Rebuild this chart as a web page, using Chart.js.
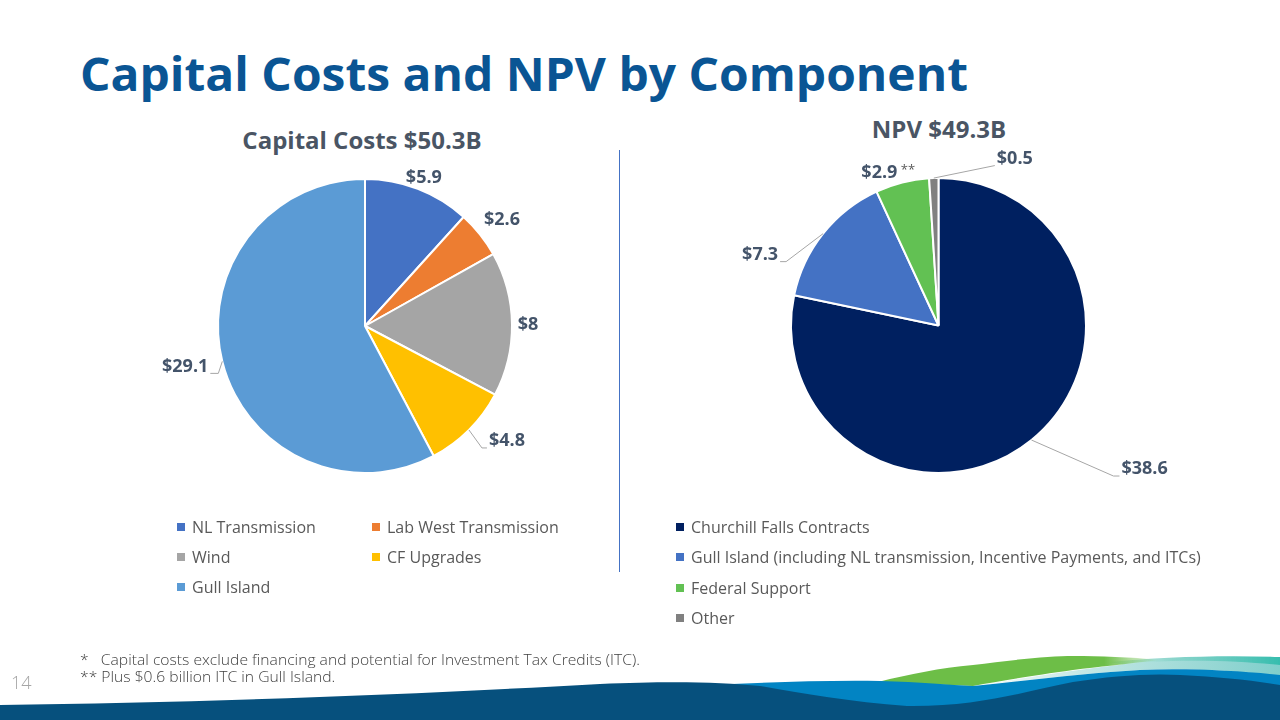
<!DOCTYPE html>
<html>
<head>
<meta charset="utf-8">
<script src="https://cdn.jsdelivr.net/npm/chart.js@4.4.1/dist/chart.umd.min.js"></script>
<style>
html,body{margin:0;padding:0;background:#ffffff;}
#slide{position:relative;width:1280px;height:720px;overflow:hidden;font-family:"Open Sans",sans-serif;background:#fff;}
.abs{position:absolute;white-space:nowrap;line-height:1;}
canvas.chart{position:absolute;left:0;top:0;}
#title{left:80px;top:50px;font-size:46px;font-weight:700;color:#0A5594;transform-origin:left top;}
.ctitle{font-size:24px;font-weight:700;color:#4A5564;text-align:center;width:400px;}
.leg{font-size:16px;color:#595959;}
.sq{position:absolute;width:8px;height:8px;}
.foot{font-size:14px;font-weight:300;color:#404040;left:80px;transform-origin:left top;}
#pnum{left:11px;top:673px;font-size:18px;font-weight:300;color:#A6A6A6;}
#divider{position:absolute;left:619px;top:150px;width:1px;height:422px;background:#4472C4;}
svg#wave{position:absolute;left:0;top:0;}
</style>
</head>
<body>
<div id="slide">
  <div id="title" class="abs">Capital Costs and NPV by Component</div>
  <div id="ct1" class="abs ctitle" style="left:162px;top:128px;">Capital Costs $50.3B</div>
  <div id="ct2" class="abs ctitle" style="left:739px;top:117px;">NPV $49.3B</div>
  <div id="divider"></div>
  <canvas id="capChart" class="chart" width="1280" height="720"></canvas>
  <canvas id="npvChart" class="chart" width="1280" height="720"></canvas>
  <div id="legCap"></div>
  <div id="legNpv"></div>
  <svg id="wave" width="1280" height="720" viewBox="0 0 1280 720">
    <defs>
      <linearGradient id="tealG" x1="1100" y1="0" x2="1280" y2="0" gradientUnits="userSpaceOnUse">
        <stop offset="0" stop-color="#8FD6CC" stop-opacity="0.3"/>
        <stop offset="0.4" stop-color="#7FD0C6" stop-opacity="0.9"/>
        <stop offset="1" stop-color="#36BDAE" stop-opacity="1"/>
      </linearGradient>
      <linearGradient id="greenG" x1="880" y1="0" x2="1160" y2="0" gradientUnits="userSpaceOnUse">
        <stop offset="0" stop-color="#6DBE47"/>
        <stop offset="0.8" stop-color="#6DBE47"/>
        <stop offset="1" stop-color="#6DBE47" stop-opacity="0"/>
      </linearGradient>
      <linearGradient id="paleG" x1="970" y1="0" x2="1280" y2="0" gradientUnits="userSpaceOnUse">
        <stop offset="0" stop-color="#FFFFFF"/>
        <stop offset="0.35" stop-color="#C6E8E6"/>
        <stop offset="1" stop-color="#7FCFCB"/>
      </linearGradient>
    </defs>
    <path d="M1110,662 C1160,657 1220,655 1280,657 L1280,676 C1240,670 1190,667 1140,669 Z" fill="url(#tealG)"/>
    <path d="M973,686 C1030,677 1090,667 1150,662 C1200,659 1250,662 1280,665 L1280,676 C1240,671 1190,668 1140,670 C1090,673 1030,680 973,686 Z" fill="url(#paleG)"/>
    <path d="M878,682 C910,674 940,668 973,665 C1010,660 1050,656 1073,656 C1100,656 1130,657 1160,660 C1125,664 1098,667 1073,670 C1030,676 1000,681 973,686 Z" fill="url(#greenG)"/>
    <path d="M700,685 C760,683 820,680 880,681 C920,682 950,685 973,686 C1030,680 1090,673 1140,670 C1190,668 1240,671 1280,675 L1280,720 L700,720 Z" fill="#0284C3"/>
    <path d="M0,705 C200,703 420,694 600,684 C670,681 720,682 760,686 C800,693 850,702 907,706 C980,707 1030,690 1073,682 C1110,676 1150,673 1180,675 C1220,677 1250,680 1280,685 L1280,720 L0,720 Z" fill="#06507D"/>
  </svg>
  <div id="f1" class="abs foot" style="top:653px;">*&nbsp;&nbsp;&nbsp;Capital costs exclude financing and potential for Investment Tax Credits (ITC).</div>
  <div id="f2" class="abs foot" style="top:670px;">** Plus $0.6 billion ITC in Gull Island.</div>
  <div id="pnum" class="abs">14</div>
</div>
<script>
// ---- data ----
const capCategories = ['NL Transmission', 'Lab West Transmission', 'Wind', 'CF Upgrades', 'Gull Island'];
const capValues = [5.9, 2.6, 8, 4.8, 29.1];
const capColors = ['#4472C4', '#ED7D31', '#A5A5A5', '#FFC000', '#5B9BD5'];

const npvCategories = ['Churchill Falls Contracts', 'Gull Island (including NL transmission, Incentive Payments, and ITCs)', 'Federal Support', 'Other'];
const npvValues = [38.6, 7.3, 2.9, 0.5];
const npvColors = ['#002060', '#4472C4', '#62C153', '#808080'];
const npvLabelSuffix = ['', '', ' **', ''];

// ---- slice label plugin ----
const sliceLabels = {
  id: 'sliceLabels',
  afterDatasetsDraw(chart, args, opts) {
    const ctx = chart.ctx;
    const meta = chart.getDatasetMeta(0);
    const values = chart.data.datasets[0].data;
    const suffix = opts.suffix || [];
    meta.data.forEach((arc, i) => {
      const p = arc.getProps(['x', 'y', 'startAngle', 'endAngle', 'outerRadius'], true);
      const mid = (p.startAngle + p.endAngle) / 2;
      const ex = p.x + Math.cos(mid) * p.outerRadius;
      const ey = p.y + Math.sin(mid) * p.outerRadius;
      const L = opts.layout[i];
      const text = '$' + values[i];
      const suf = suffix[i] || '';
      ctx.save();
      ctx.font = 'bold 18px "Open Sans"';
      ctx.textBaseline = 'middle';
      const w1 = ctx.measureText(text).width;
      ctx.font = '13px "Open Sans"';
      const w2 = suf ? ctx.measureText(suf).width : 0;
      let left, ty;
      if (L.elbow) {
        const bx = ex + L.elbow[0], by = ey + L.elbow[1];
        const tx2 = bx + L.tail;
        ctx.strokeStyle = '#A6A6A6';
        ctx.lineWidth = 1;
        ctx.beginPath();
        ctx.moveTo(ex, ey);
        ctx.lineTo(bx, by);
        ctx.lineTo(tx2, by);
        ctx.stroke();
        ty = by - 7;
        left = L.tail >= 0 ? tx2 + 2 : tx2 - 2 - (w1 + w2);
      } else {
        const cx = ex + L.dx;
        ty = ey + L.dy;
        left = cx - (w1 + w2) / 2;
      }
      ctx.textAlign = 'left';
      ctx.font = 'bold 18px "Open Sans"';
      ctx.fillStyle = '#44546A';
      ctx.fillText(text, left, ty);
      if (suf) {
        ctx.font = '13px "Open Sans"';
        ctx.fillStyle = '#595959';
        ctx.fillText(suf, left + w1, ty - 2);
      }
      ctx.restore();
    });
  }
};

function makePie(id, labels, values, colors, padding, layout, suffix) {
  return new Chart(document.getElementById(id), {
    type: 'pie',
    data: {
      labels: labels,
      datasets: [{
        data: values,
        backgroundColor: colors,
        borderColor: '#FFFFFF',
        borderWidth: 2,
        hoverOffset: 0,
        offset: 0
      }]
    },
    options: {
      responsive: false,
      animation: false,
      events: [],
      layout: { padding: padding },
      plugins: {
        legend: { display: false },
        tooltip: { enabled: false },
        title: { display: false },
        sliceLabels: { layout: layout, suffix: suffix }
      }
    },
    plugins: [sliceLabels]
  });
}

makePie('capChart', capCategories, capValues, capColors,
  { left: 217, right: 767, top: 178, bottom: 246 },
  [ { dx: 6, dy: -11 }, { dx: 22, dy: -14 }, { dx: 16, dy: 1 },
    { elbow: [13, 18], tail: 5 }, { elbow: [-4, 12], tail: -8 } ],
  []);

makePie('npvChart', npvCategories, npvValues, npvColors,
  { left: 790, right: 193, top: 177, bottom: 246 },
  [ { elbow: [82, 36], tail: 6 }, { elbow: [-37, 28], tail: -6 },
    { dx: -14, dy: -10 }, { elbow: [61, -12.5], tail: 0 } ],
  npvLabelSuffix);

// ---- HTML legends built from the data ----
function buildLegend(containerId, labels, colors, positions) {
  const c = document.getElementById(containerId);
  labels.forEach((lab, i) => {
    const pos = positions[i];
    const sq = document.createElement('div');
    sq.className = 'sq';
    sq.style.left = pos.x + 'px';
    sq.style.top = (pos.y - 4) + 'px';
    sq.style.background = colors[i];
    c.appendChild(sq);
    const t = document.createElement('div');
    t.className = 'abs leg';
    t.style.left = (pos.x + 15) + 'px';
    t.style.top = (pos.y - 8) + 'px';
    t.textContent = lab;
    c.appendChild(t);
  });
}
buildLegend('legCap', capCategories, capColors, [
  { x: 177, y: 527 }, { x: 372, y: 527 }, { x: 177, y: 557 }, { x: 372, y: 557 }, { x: 177, y: 587 }
]);
buildLegend('legNpv', npvCategories, npvColors, [
  { x: 676, y: 527 }, { x: 676, y: 557 }, { x: 676, y: 588 }, { x: 676, y: 618 }
]);

// ---- fit some text widths to the slide ----
function fitWidth(id, target) {
  const el = document.getElementById(id);
  const w = el.getBoundingClientRect().width;
  const s = target / w;
  el.style.transform = 'scaleX(' + s + ')';
  return s;
}
fitWidth('title', 888);
const fs = fitWidth('f1', 560);
document.getElementById('f2').style.transform = 'scaleX(' + fs + ')';
</script>
</body>
</html>
